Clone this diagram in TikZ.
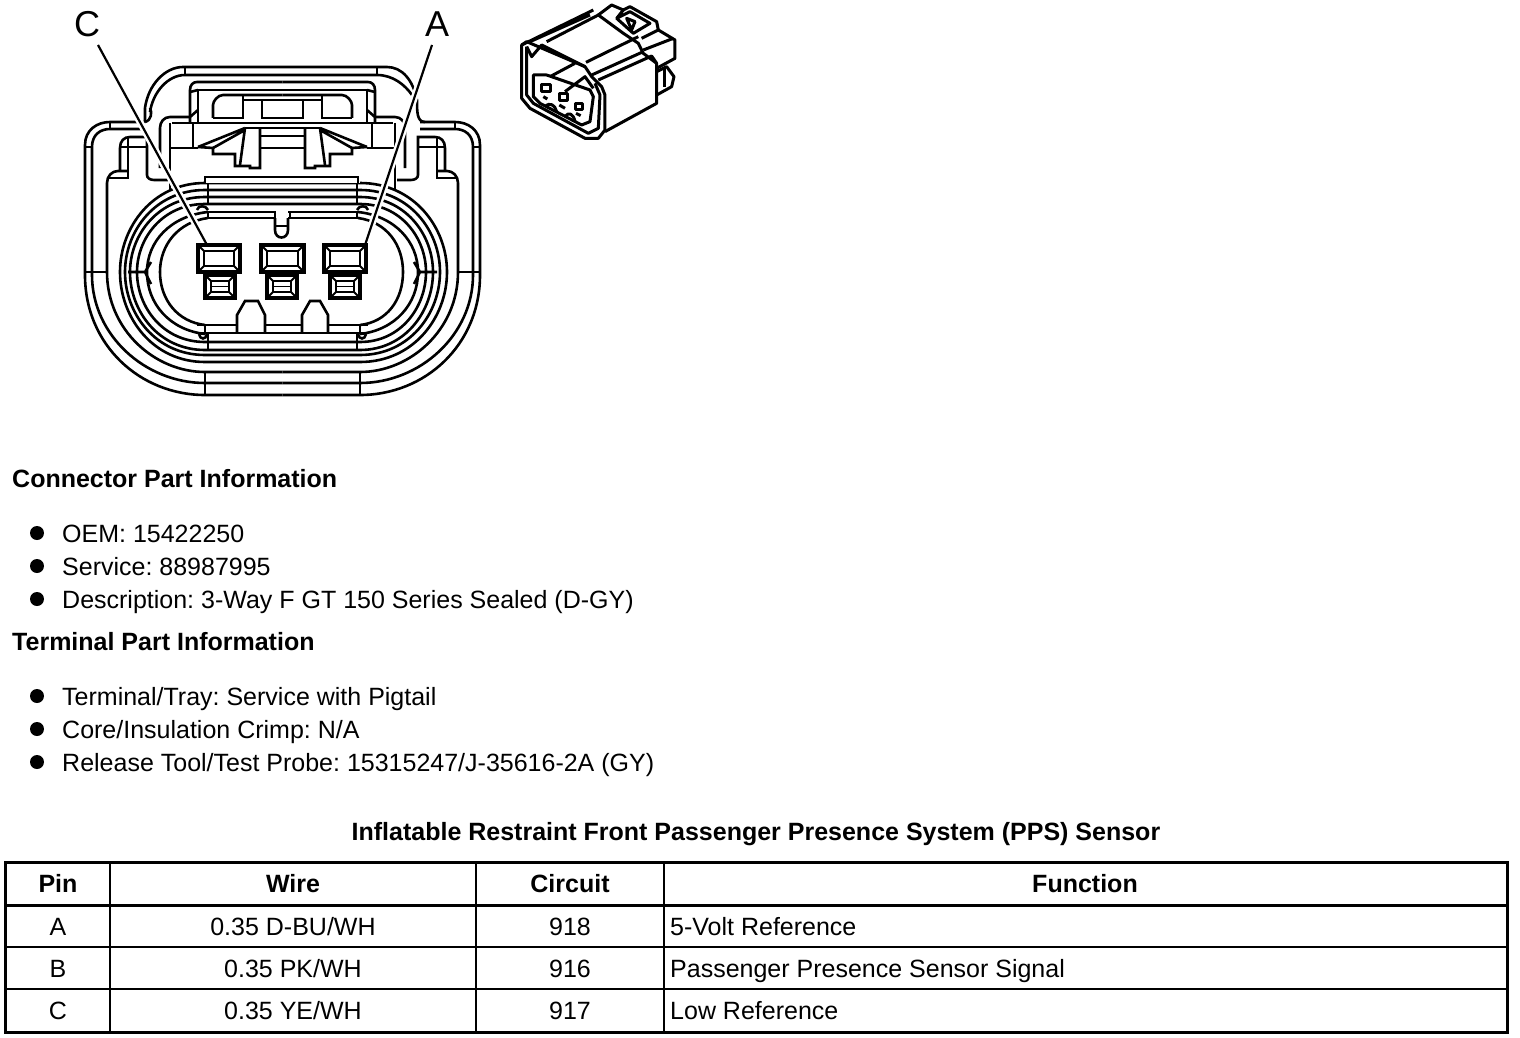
\documentclass[tikz,border=0pt]{standalone}
\usepackage{fontspec}
\setmainfont{Liberation Sans}
\AtBeginDocument{\frenchspacing}
\newcommand{\sealring}[4]{% xL xR top bottom
  \draw[ln] (205,#3) .. controls ({205-0.62*(205-#1)},#3) and (#1,{#3+0.5*(272-#3)}) .. (#1,272)
     .. controls (#1,{#4-0.5*(#4-272)}) and ({205-0.62*(205-#1)},#4) .. (205,#4) -- (360,#4)
     .. controls ({360+0.62*(#2-360)},#4) and (#2,{#4-0.5*(#4-272)}) .. (#2,272)
     .. controls (#2,{#3+0.5*(272-#3)}) and ({360+0.62*(#2-360)},#3) .. (360,#3) -- cycle;}
\newcommand{\halfbody}{%
  % outer shell, lower part
  \draw[ln] (282.5,395) -- (205,395) .. controls (140,395) and (85,345) .. (85,275) -- (85,145)
     .. controls (85,130) and (97,122) .. (110,122) -- (145,122);
  \draw[ln] (282.5,383) -- (205,383) .. controls (145,383) and (92,335) .. (92,275) -- (92,147)
     .. controls (92,135) and (100,129) .. (110,129) -- (145,129);
  \draw[ln] (282.5,372) -- (205,372) .. controls (155,372) and (107,330) .. (107,272) -- (107,183)
     .. controls (107,176) and (112,171) .. (118,171) -- (128,171);
  \draw[ln] (85,272) -- (107,272);
  \draw[ln] (85,147) -- (92,147);
  \draw[ln] (110,122) -- (110,129);
  % wing notch
  \draw[ln] (120,171) -- (120,148) .. controls (120,141) and (124,137) .. (130,137) -- (147,137) -- (147,175)
     .. controls (147,178) and (150,180) .. (154,180) -- (168,180);
  \draw[ln] (120,147) -- (147,147);
  \draw[ln] (128,147) -- (128,178) -- (107,178);
  \draw[ln] (128,137) -- (128,147);
  % housing window
  \draw[ln] (172,123) -- (198,123) (170,123) -- (170,190);
  \draw[ln] (160,168) -- (160,128) .. controls (160,122) and (164,117) .. (170,117) -- (190,117);
  \draw[ln] (170,148) -- (198,148);
  \draw[ln] (193,123) -- (193,148);
  \draw[ln] (190,122) -- (190,90) .. controls (190,85) and (193,82) .. (197,82) -- (282.5,82);
  \draw[ln] (198,122) -- (198,90) -- (282.5,90);
  \draw[ln] (190,92) -- (198,90) (190,117) -- (198,110);
  % latch
  \draw[ln] (213,118) -- (213,105) .. controls (213,101) and (218,95) .. (223,95) -- (282.5,95);
  \draw[ln] (243,95) -- (243,118) -- (213,118);
  \draw[ln] (243,100) -- (282.5,100);
  \draw[ln] (262,100) -- (262,118) -- (282.5,118);
  % centre wedge
  \draw[ln] (198,123) -- (282.5,123);
  \draw[ln] (245,128) -- (282.5,128);
  \draw[ln] (245,128) -- (198,147) (245,130) -- (213,148);
  \draw[ln] (198,147) -- (213,148) -- (213,154) -- (235,154) -- (235,166) -- (250,166) -- (250,168) -- (260,168) -- (260,128);
  \draw[ln] (245,128) -- (240,165);
  \draw[ln] (260,136) -- (282.5,136) (260,148) -- (282.5,148);
  % terminal-side seal details
  \draw[ln] (208,183) -- (208,204);
  \draw[ln] (208,212) -- (275,212) -- (275,218) (208,218) -- (275,218);
  \draw[ln] (208,212) -- (208,218);
  \draw[ln] (197,210) .. controls (198,205) and (206,205) .. (208,210);
  \draw[ln] (198,333) -- (282.5,333);
  \draw[ln] (197,325) -- (237,325);
  \draw[ln] (199,334) .. controls (200,340) and (206,340) .. (207,334);
  \draw[ln] (205,325) -- (205,333);
  \draw[ln] (208,333) -- (208,350);
  % bottom band
  \draw[ln] (205,372) -- (205,395);
  % wedge mark in seal
  \draw[ln] (128,272) -- (145,272) (151,262) -- (145,272) -- (151,284);
}
\tikzset{
  ln/.style={draw=black,line width=2.6pt,line join=miter},
  thin ln/.style={draw=black,line width=1.8pt},
  term/.style={draw=black,line width=3.2pt,line join=miter},
  rulebold/.style={draw=black,line width=3pt},
  rule/.style={draw=black,line width=2pt},
  txt/.style={anchor=base west,inner sep=0pt,font=\fontsize{25}{28}\selectfont},
  hd/.style={anchor=base west,inner sep=0pt,font=\fontsize{25}{28}\selectfont\bfseries},
  cell/.style={anchor=base,inner sep=0pt,font=\fontsize{25}{28}\selectfont},
  cellb/.style={anchor=base,inner sep=0pt,font=\fontsize{25}{28}\selectfont\bfseries},
  lab/.style={anchor=base,inner sep=0pt,font=\fontsize{36}{40}\selectfont},
  bul/.style={circle,fill=black,draw=none,minimum size=14pt,inner sep=0pt},
  halo/.style={draw=white,line width=7pt},
  lead/.style={draw=black,line width=2.2pt}
}
\begin{document}
\begin{tikzpicture}[x=1pt,y=-1pt]
\useasboundingbox (0,0) rectangle (1520,1038);
% --- seal rings
\sealring{120}{447}{183}{362}
\sealring{125}{440}{190}{355}
\sealring{130}{433}{197}{350}
\sealring{137}{426}{204}{342}
% inner cavity
\draw[ln] (208,218) .. controls (178,222) and (160,245) .. (160,272) .. controls (160,300) and (178,322) .. (205,325);
\draw[ln] (358,218) .. controls (387,222) and (403,245) .. (403,272) .. controls (403,300) and (387,322) .. (360,325);
\draw[ln] (208,212) .. controls (170,216) and (147,242) .. (147,272) .. controls (147,304) and (170,330) .. (205,334);
\draw[ln] (358,212) .. controls (395,216) and (418,242) .. (418,272) .. controls (418,304) and (395,330) .. (360,334);
% white out top of the rings behind the latch band
\fill[white] (205,178) rectangle (360,183);
\draw[ln] (205,183) -- (205,177) -- (358,177) -- (358,183);
% --- mirrored halves
\halfbody
\begin{scope}[xshift=565pt,xscale=-1]
\halfbody
\end{scope}
% top hump
\draw[ln] (145,122) -- (145,108) .. controls (148,85) and (165,67) .. (183,67) -- (387,67)
   .. controls (402,67) and (413,80) .. (417,100) .. controls (417,112) and (417,122) .. (425,122);
\draw[ln] (150,112) .. controls (153,92) and (168,75) .. (185,75) -- (377,75)
   .. controls (393,75) and (405,85) .. (412,95);
\draw[ln] (185,67) -- (185,75) (377,67) -- (377,75);
\draw[ln] (145,122) .. controls (152,120) and (152,112) .. (150,108);
% nubs
\draw[ln] (237,333) -- (237,315) -- (245,301) -- (258,301) -- (265,315) -- (265,333);
\draw[ln] (302,333) -- (302,315) -- (310,301) -- (320,301) -- (328,315) -- (328,333);
\draw[ln] (265,325) -- (302,325) (328,325) -- (368,325);
% top nub
\draw[ln] (275,218) -- (275,230) .. controls (275,240) and (288,240) .. (288,230) -- (288,218);
\draw[ln] (275,226) -- (288,226);
\draw[ln] (288,212) -- (358,212) (288,218) -- (358,218);
% leaders
\coordinate (cend) at (207,245);
\coordinate (cstart) at (98,45);
\coordinate (aend) at (365,245);
\coordinate (astart) at (432,45);
\draw[halo] (cstart) -- (cend);
\draw[halo] (astart) -- (aend);
\draw[lead] (cstart) -- (cend);
\draw[lead] (astart) -- (aend);
\node[lab] (lc) at (87,37) {C};
\node[lab] (la) at (437,37) {A};
% --- terminals
\foreach \nm/\xa/\xb in {ta/198/240,tb/261/304,tc/324/366}{
  \draw[term,fill=white] (\xa,245) rectangle (\xb,272);
  \draw[ln] ({\xa+6},251) rectangle ({\xb-6},266);
  \draw[thin ln] (\xa,245) -- ({\xa+6},251) (\xb,245) -- ({\xb-6},251) (\xa,272) -- ({\xa+6},266) (\xb,272) -- ({\xb-6},266);
}
\foreach \nm/\xa/\xb in {ba/205/235,bb/267/297,bc/330/360}{
  \draw[term] (\xa,275) rectangle (\xb,298);
  \draw[ln] ({\xa+6},281) rectangle ({\xb-6},292);
  \draw[thin ln] ({\xa+6},286.5) -- ({\xb-6},286.5);
  \draw[thin ln] (\xa,275) -- ({\xa+6},281) (\xb,275) -- ({\xb-6},281) (\xa,298) -- ({\xa+6},292) (\xb,298) -- ({\xb-6},292);
}
% --- isometric connector view
\begin{scope}[shift={(510,0)},x=0.3333pt,y=-0.3333pt,line join=round]
\tikzset{iso/.style={draw=black,line width=3pt}}
\draw[iso] (35,135) -- (50,125) -- (225,200) -- (245,230) -- (275,260) -- (285,285) -- (285,390) -- (265,415) -- (225,415) -- (60,325) -- (35,295) -- cycle;
\draw[iso] (50,140) -- (50,285) -- (70,310) -- (235,400) -- (265,385) -- (270,285) -- (255,250);
\draw[iso] (50,140) -- (65,170) -- (95,135) -- (225,200);
\draw[iso] (35,135) -- (250,30) (60,125) -- (240,45);
\draw[iso] (110,125) -- (265,45) -- (340,100) -- (385,130) -- (400,160) -- (440,190);
\draw[iso] (265,45) -- (305,15) -- (340,30) -- (360,20) -- (440,65) -- (445,90) -- (395,115);
\draw[iso] (228,187) -- (385,110);
\draw[iso] (245,225) -- (400,155);
\draw[iso] (265,240) -- (425,168) -- (440,190) -- (440,310) -- (285,395);
\draw[iso] (340,30) -- (320,55) -- (370,100) -- (420,70) -- (360,35) -- (320,55);
\draw[iso] (350,55) -- (365,90) -- (375,65) -- cycle;
\draw[iso] (445,90) -- (495,120) -- (495,175) -- (440,205);
\draw[iso] (400,150) -- (490,115);
\draw[iso] (440,215) -- (470,200) -- (492,230) -- (485,260) -- (440,285);
\draw[iso] (465,205) -- (465,260);
\draw[iso] (70,225) -- (70,290) -- (90,310) -- (215,375) -- (240,365) -- (250,290) -- (240,270) -- (110,225) -- cycle;
\draw[iso] (120,230) -- (195,190) (165,275) -- (225,230) -- (250,265);
\draw[iso] (95,255) rectangle (120,275);
\draw[iso] (148,282) rectangle (172,302);
\draw[iso] (195,310) rectangle (218,328);
\draw[iso] (100,290) -- (112,297) (148,315) -- (165,325) (198,340) -- (212,347);
\draw[iso] (105,320) .. controls (120,305) and (135,315) .. (140,335);
\draw[iso] (165,350) .. controls (175,335) and (190,340) .. (195,365);
\end{scope}
% --- text
\node[hd] (h1) at (12,487) {Connector Part Information};
\node[bul] (b1) at (37,533) {};
\node[txt] (t1) at (62,542) {OEM: 15422250};
\node[bul] (b2) at (37,566) {};
\node[txt] (t2) at (62,575) {Service: 88987995};
\node[bul] (b3) at (37,599) {};
\node[txt] (t3) at (62,608) {Description: 3-Way F GT 150 Series Sealed (D-GY)};
\node[hd] (h2) at (12,650) {Terminal Part Information};
\node[bul] (b4) at (37,696) {};
\node[txt] (t4) at (62,705) {Terminal/Tray: Service with Pigtail};
\node[bul] (b5) at (37,729) {};
\node[txt] (t5) at (62,738) {Core/Insulation Crimp: N/A};
\node[bul] (b6) at (37,762) {};
\node[txt] (t6) at (62,771) {Release Tool/Test Probe: 15315247/J-35616-2A (GY)};
\node[cellb] (ttl) at (756,840) {Inflatable Restraint Front Passenger Presence System (PPS) Sensor};
% --- table
\draw[rulebold] (5,862) rectangle (1507,1032);
\draw[rulebold] (5,905) -- (1507,905);
\draw[rule] (5,947) -- (1507,947) (5,989) -- (1507,989);
\draw[rule] (110,862) -- (110,1032) (476,862) -- (476,1032) (664,862) -- (664,1032);
\node[cellb] (c1) at (58,892) {Pin};
\node[cellb] (c2) at (293,892) {Wire};
\node[cellb] (c3) at (570,892) {Circuit};
\node[cellb] (c4) at (1085,892) {Function};
\node[cell] (a1) at (58,935) {A};
\node[cell] (a2) at (293,935) {0.35 D-BU/WH};
\node[cell] (a3) at (570,935) {918};
\node[txt] (a4) at (670,935) {5-Volt Reference};
\node[cell] (b1c) at (58,977) {B};
\node[cell] (b2c) at (293,977) {0.35 PK/WH};
\node[cell] (b3c) at (570,977) {916};
\node[txt] (b4c) at (670,977) {Passenger Presence Sensor Signal};
\node[cell] (d1) at (58,1019) {C};
\node[cell] (d2) at (293,1019) {0.35 YE/WH};
\node[cell] (d3) at (570,1019) {917};
\node[txt] (d4) at (670,1019) {Low Reference};
\end{tikzpicture}
\end{document}
